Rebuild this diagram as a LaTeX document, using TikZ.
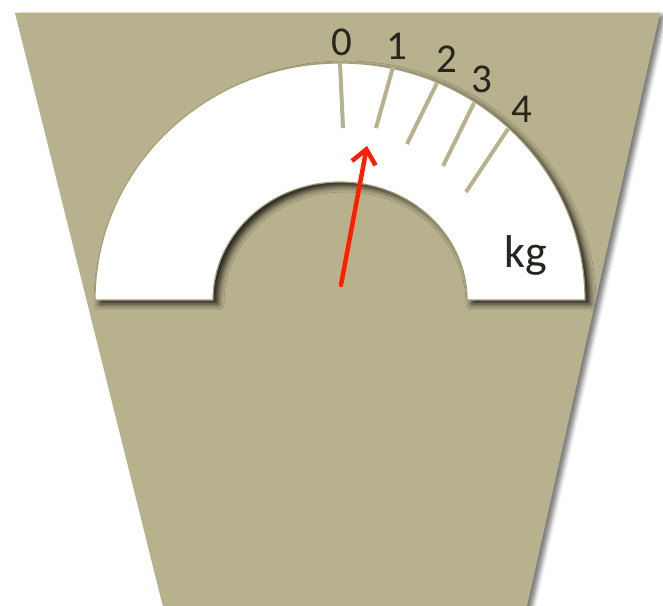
\documentclass[tikz,border=0pt]{standalone}
\usepackage{fontspec}
\setmainfont{Carlito}
\usetikzlibrary{arrows.meta,shadows.blur}
\definecolor{Olive}{RGB}{184,177,141}
\definecolor{Rim}{RGB}{165,158,120}
\definecolor{Ink}{RGB}{40,36,30}
\definecolor{Needle}{RGB}{255,30,0}

\begin{document}
\begin{tikzpicture}[x=1pt,y=1pt,
 t/.style={line width=4pt,Olive},
 d/.style={font=\fontsize{41}{45}\selectfont,text=Ink,inner sep=0pt},
 a/.style={-{Straight Barb[length=14pt,width=24pt]},line width=4.5pt,line cap=round,Needle}]
\useasboundingbox (0,0) rectangle (663,605);
% body of the scale
\fill[Olive,blur shadow={shadow xshift=5pt,shadow yshift=-2pt,shadow blur radius=4pt,shadow opacity=50}] (15,592) -- (660,592) -- (525,-10) -- (165,-10) -- cycle;
% dial
\draw[Rim,line width=1.2pt,fill=white,blur shadow={shadow xshift=5pt,shadow yshift=-4pt,shadow blur radius=6pt,shadow opacity=85}] (95,305) arc[start angle=180,end angle=0,x radius=245,y radius=237] -- (467,305) arc[start angle=0,end angle=180,x radius=127,y radius=118] -- cycle;
% ticks and numbers
\draw[t] (340,542) -- (343,477);\draw[t] (393,538) -- (376,477);\draw[t] (437,522) -- (407,461);
\draw[t] (474,502) -- (443,439);\draw[t] (508,476) -- (466,413);
\node[d] (n0) at (342,563) {0};
\node[d] (n1) at (397,559) {1};
\node[d] (n2) at (447,546) {2};
\node[d] (n3) at (482,526) {3};
\node[d] (n4) at (522,496) {4};
\node[font=\fontsize{46}{50}\selectfont,text=Ink,inner sep=0pt] (unit) at (526,350) {kg};
% needle
\coordinate (pivot) at (341,320);
\coordinate (tip) at (367,459);
\draw[a] (pivot) -- (tip);
\end{tikzpicture}
\end{document}
